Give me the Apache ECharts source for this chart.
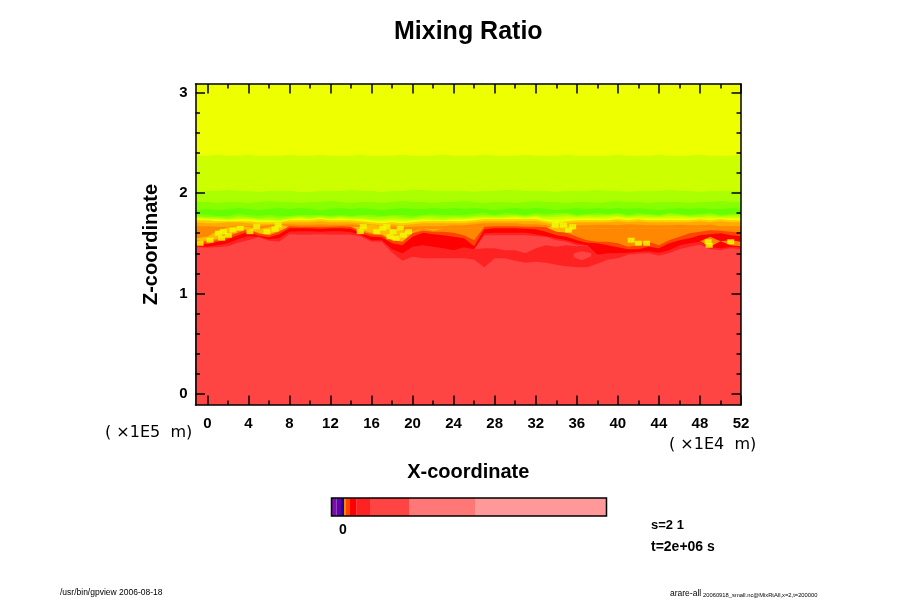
<!DOCTYPE html>
<html>
<head>
<meta charset="utf-8">
<title>Mixing Ratio</title>
<script src="https://cdn.jsdelivr.net/npm/echarts@6/dist/echarts.min.js"></script>
<style>
html,body{margin:0;padding:0;background:#fff}
#main{width:900px;height:600px}
</style>
</head>
<body>
<div id="main"></div>
<script>
// x positions (1E4 m) of the contour readings
var xs = [-1.15,0,1,2,3,4,5,6,7,8,
  9,10,11,12,13,14,15,16,17,18,
  19,20,21,22,23,24,25,26,27,28,
  29,30,31,32,33,34,35,36,37,38,
  39,40,41,42,43,44,45,46,47,48,
  49,50,51,52];

// contour heights (1E5 m), top of each colour band, same order as xs
var topCc = [2.37,2.37,2.38,2.37,2.37,2.38,2.37,2.37,2.37,2.38,
  2.37,2.37,2.38,2.37,2.37,2.37,2.38,2.37,2.37,2.37,
  2.38,2.37,2.37,2.37,2.38,2.37,2.37,2.37,2.38,2.37,
  2.37,2.37,2.38,2.37,2.37,2.37,2.38,2.37,2.37,2.37,
  2.37,2.38,2.37,2.37,2.37,2.38,2.37,2.37,2.37,2.38,
  2.37,2.37,2.37,2.38];
var topAa = [2.01,2.02,2.02,2.03,2.02,2.02,2.01,2.02,2.02,2.02,
  2.01,2.01,2.02,2.02,2.02,2.03,2.02,2.02,2.01,2.02,
  2.02,2.03,2.03,2.02,2.02,2.02,2.02,2.01,2.02,2.02,
  2.03,2.03,2.02,2.02,2.02,2.01,2.02,2.02,2.02,2.03,
  2.02,2.02,2.01,2.02,2.02,2.02,2.03,2.02,2.02,2.01,
  2.02,2.02,2.02,2.02];
var top88 = [1.91,1.91,1.90,1.91,1.91,1.90,1.91,1.92,1.91,1.91,
  1.90,1.91,1.91,1.92,1.91,1.90,1.91,1.91,1.90,1.91,
  1.92,1.91,1.91,1.90,1.91,1.91,1.92,1.91,1.90,1.91,
  1.91,1.90,1.91,1.92,1.91,1.91,1.90,1.91,1.91,1.90,
  1.91,1.92,1.91,1.91,1.90,1.91,1.91,1.91,1.90,1.91,
  1.91,1.92,1.91,1.91];
var top66 = [1.83,1.84,1.83,1.84,1.85,1.84,1.83,1.84,1.85,1.84,
  1.85,1.84,1.83,1.84,1.85,1.84,1.85,1.84,1.83,1.84,
  1.85,1.84,1.84,1.85,1.84,1.85,1.84,1.85,1.84,1.83,
  1.84,1.85,1.84,1.85,1.84,1.83,1.84,1.85,1.84,1.85,
  1.84,1.85,1.84,1.85,1.84,1.83,1.84,1.85,1.84,1.85,
  1.84,1.84,1.85,1.84];
var low88 = [1.79,1.78,1.77,1.77,1.79,1.78,1.77,1.78,1.77,1.77,
  1.78,1.78,1.78,1.77,1.78,1.77,1.78,1.78,1.77,1.78,
  1.78,1.77,1.78,1.79,1.78,1.78,1.78,1.79,1.80,1.78,
  1.80,1.79,1.78,1.80,1.79,1.80,1.80,1.78,1.79,1.80,
  1.79,1.80,1.78,1.80,1.79,1.78,1.80,1.79,1.78,1.79,
  1.80,1.78,1.79,1.80];
var lowAa = [1.77,1.76,1.76,1.75,1.77,1.76,1.75,1.76,1.75,1.76,
  1.77,1.76,1.77,1.76,1.77,1.76,1.77,1.76,1.76,1.77,
  1.76,1.75,1.77,1.77,1.76,1.77,1.76,1.77,1.78,1.77,
  1.78,1.78,1.77,1.78,1.77,1.78,1.79,1.77,1.78,1.78,
  1.78,1.79,1.77,1.78,1.78,1.77,1.79,1.78,1.77,1.78,
  1.79,1.77,1.78,1.78];
var lowCc = [1.76,1.75,1.75,1.74,1.75,1.75,1.74,1.74,1.73,1.75,
  1.76,1.75,1.76,1.75,1.76,1.75,1.75,1.74,1.74,1.75,
  1.74,1.74,1.75,1.75,1.74,1.75,1.75,1.76,1.76,1.76,
  1.76,1.77,1.76,1.77,1.76,1.76,1.77,1.76,1.77,1.76,
  1.77,1.77,1.76,1.77,1.76,1.76,1.77,1.77,1.76,1.76,
  1.77,1.76,1.77,1.76];
var lowEe = [1.75,1.74,1.74,1.73,1.74,1.74,1.73,1.73,1.72,1.74,
  1.75,1.74,1.75,1.74,1.75,1.74,1.74,1.73,1.72,1.73,
  1.72,1.73,1.74,1.73,1.73,1.74,1.74,1.75,1.75,1.75,
  1.75,1.76,1.75,1.76,1.74,1.74,1.75,1.75,1.75,1.75,
  1.75,1.76,1.75,1.75,1.75,1.75,1.75,1.75,1.75,1.75,
  1.75,1.75,1.75,1.75];
var topOrC = [1.73,1.73,1.72,1.72,1.72,1.72,1.71,1.71,1.71,1.73,
  1.73,1.73,1.74,1.73,1.73,1.73,1.72,1.71,1.70,1.71,
  1.70,1.71,1.72,1.72,1.72,1.72,1.72,1.73,1.74,1.74,
  1.74,1.74,1.74,1.74,1.72,1.70,1.72,1.73,1.73,1.73,
  1.73,1.74,1.73,1.74,1.73,1.73,1.73,1.73,1.73,1.74,
  1.73,1.74,1.73,1.73];
var topOrA = [1.71,1.70,1.70,1.71,1.71,1.70,1.69,1.69,1.70,1.71,
  1.71,1.71,1.72,1.71,1.71,1.71,1.70,1.69,1.68,1.69,
  1.68,1.69,1.70,1.70,1.70,1.70,1.70,1.71,1.72,1.72,
  1.72,1.72,1.72,1.72,1.70,1.68,1.70,1.71,1.71,1.71,
  1.71,1.72,1.71,1.72,1.71,1.71,1.71,1.71,1.71,1.72,
  1.71,1.72,1.71,1.71];
var topOr8 = [1.67,1.67,1.665,1.665,1.68,1.67,1.67,1.68,1.69,1.69,
  1.685,1.685,1.69,1.685,1.685,1.69,1.68,1.67,1.66,1.67,
  1.66,1.665,1.67,1.67,1.67,1.68,1.68,1.69,1.70,1.70,
  1.70,1.70,1.69,1.69,1.68,1.66,1.68,1.68,1.68,1.685,
  1.685,1.68,1.69,1.685,1.68,1.68,1.68,1.685,1.68,1.68,
  1.685,1.67,1.67,1.67];
// lighter orange patches caught inside the orange
var patchTop = [1.55,1.565,1.625,1.66,1.67,1.665,1.64,1.66,1.69,1.66,
  1.66,1.66,1.66,1.66,1.66,1.66,1.665,1.685,1.66,1.64,
  1.625,1.615,1.65,1.64,1.65,1.65,1.65,1.65,1.65,1.65,
  1.65,1.65,1.65,1.65,1.65,1.69,1.685,1.65,1.65,1.65,
  1.65,1.65,1.65,1.65,1.65,1.65,1.65,1.65,1.65,1.65,
  1.65,1.65,1.65,1.65];
var patchBot = [1.515,1.53,1.545,1.605,1.63,1.645,1.59,1.59,1.625,1.66,
  1.66,1.66,1.66,1.66,1.66,1.66,1.63,1.605,1.59,1.53,
  1.515,1.605,1.65,1.625,1.65,1.65,1.65,1.65,1.65,1.65,
  1.65,1.65,1.65,1.65,1.65,1.615,1.605,1.65,1.65,1.65,
  1.65,1.65,1.65,1.65,1.65,1.65,1.65,1.65,1.65,1.65,
  1.65,1.65,1.65,1.65];
var topFf44 = [1.53,1.515,1.53,1.565,1.605,1.64,1.60,1.58,1.615,1.67,
  1.665,1.665,1.665,1.665,1.67,1.665,1.615,1.59,1.58,1.53,
  1.515,1.60,1.625,1.615,1.615,1.605,1.58,1.53,1.665,1.67,
  1.67,1.67,1.665,1.665,1.66,1.615,1.605,1.565,1.53,1.515,
  1.515,1.50,1.465,1.48,1.515,1.48,1.53,1.565,1.60,1.615,
  1.63,1.625,1.615,1.605];
var topFf00 = [1.50,1.49,1.515,1.54,1.58,1.615,1.575,1.56,1.59,1.65,
  1.65,1.65,1.645,1.65,1.65,1.645,1.60,1.565,1.56,1.50,
  1.48,1.565,1.605,1.59,1.58,1.565,1.55,1.47,1.64,1.65,
  1.65,1.65,1.645,1.64,1.615,1.58,1.565,1.53,1.505,1.50,
  1.48,1.46,1.44,1.44,1.465,1.45,1.50,1.53,1.55,1.58,
  1.59,1.60,1.58,1.57];
var topFf22 = [1.47,1.465,1.48,1.50,1.54,1.57,1.565,1.54,1.55,1.615,
  1.62,1.62,1.615,1.62,1.62,1.61,1.58,1.53,1.53,1.44,
  1.40,1.465,1.48,1.465,1.45,1.43,1.46,1.44,1.60,1.605,
  1.605,1.605,1.605,1.59,1.57,1.55,1.53,1.50,1.48,1.385,
  1.40,1.40,1.405,1.415,1.42,1.405,1.43,1.48,1.50,1.515,
  1.46,1.45,1.465,1.46];
// the pink pocket at x=27..37 and the red swirl under it
var topPocket = [1.46,1.455,1.46,1.47,1.505,1.53,1.56,1.525,1.515,1.59,
  1.585,1.585,1.59,1.585,1.585,1.585,1.565,1.515,1.515,1.405,
  1.325,1.365,1.35,1.35,1.35,1.35,1.35,1.44,1.58,1.58,
  1.58,1.58,1.58,1.57,1.565,1.53,1.515,1.48,1.48,1.385,
  1.335,1.35,1.385,1.395,1.40,1.375,1.40,1.44,1.465,1.485,
  1.44,1.43,1.45,1.44];
var topSwirl = [1.46,1.455,1.46,1.47,1.505,1.53,1.56,1.525,1.515,1.59,
  1.585,1.585,1.59,1.585,1.585,1.585,1.565,1.515,1.515,1.405,
  1.325,1.365,1.35,1.35,1.35,1.35,1.35,1.44,1.45,1.45,
  1.43,1.43,1.40,1.45,1.48,1.465,1.48,1.47,1.48,1.385,
  1.335,1.35,1.385,1.395,1.40,1.375,1.40,1.44,1.465,1.485,
  1.44,1.43,1.45,1.44];
var topMain = [1.46,1.455,1.46,1.47,1.505,1.53,1.56,1.525,1.515,1.59,
  1.585,1.585,1.59,1.585,1.585,1.585,1.565,1.515,1.515,1.405,
  1.325,1.365,1.35,1.35,1.35,1.35,1.35,1.335,1.26,1.35,
  1.35,1.325,1.305,1.315,1.305,1.285,1.27,1.26,1.26,1.295,
  1.335,1.35,1.385,1.395,1.40,1.375,1.40,1.44,1.465,1.485,
  1.44,1.43,1.45,1.44];

// small local features, each with its own x readings
var lateX = [48,49,50,51,52];
var lateTop = [1.52,1.565,1.52,1.53,1.515];
var lateBot = [1.52,1.465,1.52,1.48,1.47];
var eyeX = [35.7,36.5,37.4];
var eyeTop = [1.40,1.42,1.40];
var eyeBot = [1.36,1.33,1.37];

// yellow specks in the mixing layer
var speckX = [-0.7,0.26,1.07,1.56,1.4,2.05,2.5,3.2,4.15,4.8,5.8,6.6,6.9,
  14.9,15.2,16.5,17.1,17.8,18.4,19.1,18.1,17.5,18.8,19.6,
  33.9,34.7,35.2,35.6,41.3,42,42.8,48.8,48.9,51];
var speckZ = [1.50,1.53,1.60,1.615,1.55,1.58,1.63,1.65,1.615,1.665,1.615,1.64,1.68,
  1.615,1.665,1.615,1.65,1.565,1.55,1.58,1.615,1.665,1.65,1.615,
  1.68,1.68,1.63,1.665,1.53,1.50,1.50,1.515,1.48,1.515];

// ticks
var xMajor = [0,4,8,12,16,20,24,28,32,36,40,44,48,52];
var xMinor = [2,6,10,14,18,22,26,30,34,38,42,46,50];
var zMajor = [0,1,2,3];
var zMinor = [0.2,0.4,0.6,0.8,1.2,1.4,1.6,1.8,2.2,2.4,2.6,2.8];

// colour bar
var cbarWidths = [5,4.5,3,2,4,6.7,13.3,39,66,131.5];
var cbarColors = ['#7a10aa','#6600aa','#1100aa','#ff8800','#ff4400','#ff0000','#ff2222','#ff4444','#ff7777','#ff9999'];

var fontName = '"Liberation Sans",Arial,sans-serif';

function band(x, z, color) {
  var pts = [];
  for (var i = 0; i < x.length; i++) pts.push([x[i], z[i]]);
  return {
    type: 'line', data: pts, xAxisIndex: 0, yAxisIndex: 0,
    showSymbol: false, silent: true, animation: false,
    lineStyle: {width: 0},
    areaStyle: {color: color, opacity: 1, origin: 'start'}
  };
}

var series = [
  band(xs, topCc, '#ccff00'),
  band(xs, topAa, '#aaff00'),
  band(xs, top88, '#88ff00'),
  band(xs, top66, '#66ff00'),
  band(xs, low88, '#88ff00'),
  band(xs, lowAa, '#aaff00'),
  band(xs, lowCc, '#ccff00'),
  band(xs, lowEe, '#eeff00'),
  band(xs, topOrC, '#ffcc00'),
  band(xs, topOrA, '#ffaa00'),
  band(xs, topOr8, '#ff8800'),
  band(xs, patchTop, '#ffbb00'),
  band(xs, patchBot, '#ff8800'),
  band(xs, topFf44, '#ff4400'),
  band(xs, topFf00, '#ff0000'),
  band(lateX, lateTop, '#ff8800'),
  band(lateX, lateBot, '#ff0000'),
  band(xs, topFf22, '#ff2222'),
  band(xs, topPocket, '#ff4444'),
  band(xs, topSwirl, '#ff2222'),
  band(eyeX, eyeTop, '#ff4444'),
  band(eyeX, eyeBot, '#ff2222'),
  band(xs, topMain, '#ff4444'),
  {
    type: 'scatter', xAxisIndex: 0, yAxisIndex: 0, silent: true, animation: false, z: 5,
    data: speckX.map(function(x, i) { return [x, speckZ[i]]; }),
    symbol: 'rect', symbolSize: [7, 5],
    itemStyle: {color: '#eeff00'}
  }
];

cbarWidths.forEach(function(w, i) {
  series.push({
    type: 'bar', stack: 'cbar', xAxisIndex: 4, yAxisIndex: 4,
    data: [w], barWidth: '100%', silent: true, animation: false,
    itemStyle: {color: cbarColors[i]}
  });
});

var plotRect = {left: 195.5, right: 159, top: 84, bottom: 195};

function xAxis(gridIndex, pos, ticks, len, labels, isMajor) {
  return {
    type: 'value', gridIndex: gridIndex, position: pos, min: -1.15, max: 52, z: 10,
    splitLine: {show: false},
    axisLine: {show: isMajor, onZero: false, lineStyle: {color: '#000', width: 1.5}},
    axisTick: {show: true, inside: true, length: len, customValues: ticks, lineStyle: {color: '#000', width: 1.5}},
    axisLabel: labels ? {show: true, customValues: labels, margin: 11, color: '#000', fontFamily: fontName, fontWeight: 'bold', fontSize: 15} : {show: false}
  };
}
function zAxis(gridIndex, pos, ticks, len, labels, isMajor) {
  return {
    type: 'value', gridIndex: gridIndex, position: pos, min: -0.11, max: 3.085, z: 10,
    splitLine: {show: false},
    axisLine: {show: isMajor, onZero: false, lineStyle: {color: '#000', width: 1.5}},
    axisTick: {show: true, inside: true, length: len, customValues: ticks, lineStyle: {color: '#000', width: 1.5}},
    axisLabel: labels ? {show: true, customValues: labels, margin: 8, color: '#000', fontFamily: fontName, fontWeight: 'bold', fontSize: 15} : {show: false}
  };
}

var bottomMajor = xAxis(0, 'bottom', xMajor, 9.5, xMajor, true);
bottomMajor.name = 'X-coordinate';
bottomMajor.nameLocation = 'middle';
bottomMajor.nameGap = 57;
bottomMajor.nameTextStyle = {color: '#000', fontFamily: fontName, fontWeight: 'bold', fontSize: 20};
var leftMajor = zAxis(0, 'left', zMajor, 9.5, zMajor, true);
leftMajor.name = 'Z-coordinate';
leftMajor.nameLocation = 'middle';
leftMajor.nameGap = 34;
leftMajor.nameTextStyle = {color: '#000', fontFamily: fontName, fontWeight: 'bold', fontSize: 20};

function label(x, y, text, size, weight, family, align) {
  return {
    type: 'text', x: x, y: y, silent: true, z: 20,
    style: {text: text, fill: '#000', fontSize: size, fontWeight: weight, fontFamily: family || fontName, textAlign: align || 'left', textVerticalAlign: 'middle'}
  };
}

var chart = echarts.init(document.getElementById('main'), null, {renderer: 'canvas'});
chart.setOption({
  animation: false,
  backgroundColor: '#fff',
  title: {
    text: 'Mixing Ratio', left: 389, top: 15,
    textStyle: {color: '#000', fontFamily: fontName, fontWeight: 'bold', fontSize: 25}
  },
  grid: [
    Object.assign({show: true, backgroundColor: '#eeff00', borderWidth: 0}, plotRect),
    Object.assign({show: false}, plotRect),
    {left: 331.5, width: 275, top: 498, height: 18, show: false}
  ],
  xAxis: [
    bottomMajor,
    xAxis(0, 'top', xMajor, 9.5, null, true),
    xAxis(1, 'bottom', xMinor, 4.5, null, false),
    xAxis(1, 'top', xMinor, 4.5, null, false),
    {type: 'value', gridIndex: 2, min: 0, max: 275, show: false}
  ],
  yAxis: [
    leftMajor,
    zAxis(0, 'right', zMajor, 9.5, null, true),
    zAxis(1, 'left', zMinor, 4.5, null, false),
    zAxis(1, 'right', zMinor, 4.5, null, false),
    {type: 'category', gridIndex: 2, data: ['bar'], show: false}
  ],
  series: series,
  graphic: [
    {type: 'rect', shape: {x: 331.5, y: 498, width: 275, height: 18}, silent: true, z: 20,
      style: {fill: 'none', stroke: '#000', lineWidth: 1.5}},
    label(343, 530, '0', 14, 'bold', null, 'center'),
    label(105, 433, '( \u00d71E5  m)', 16, 'normal', '"DejaVu Sans"'),
    label(669, 445, '( \u00d71E4  m)', 16, 'normal', '"DejaVu Sans"'),
    label(651, 525, 's=2 1', 13, 'bold'),
    label(651, 547, 't=2e+06 s', 14, 'bold'),
    label(60, 593, '/usr/bin/gpview 2006-08-18', 8.5, 'normal'),
    label(670, 594, 'arare-all', 8.5, 'normal'),
    label(703, 595, '20060918_small.nc@MixRtAll,x=2,t=200000', 5.8, 'normal')
  ]
});
</script>
</body>
</html>
